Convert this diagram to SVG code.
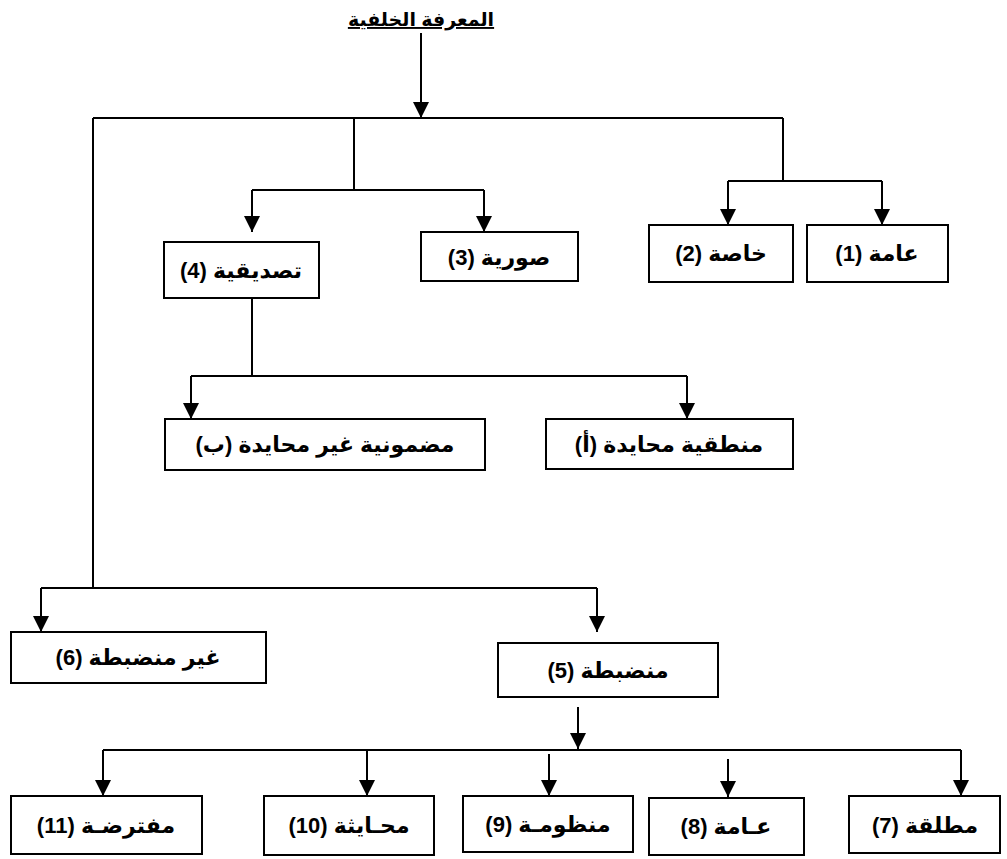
<svg xmlns="http://www.w3.org/2000/svg" width="1007" height="859" viewBox="0 0 1007 859">
<style>
  .box { fill: #ffffff; stroke: #000000; stroke-width: 2; }
  .lbl { font-family: "Liberation Sans", "DejaVu Sans", sans-serif; font-weight: bold; font-size: 22px; fill: #000000; text-anchor: middle; direction: rtl; unicode-bidi: embed; }
  .title { font-size: 19px; text-decoration: underline; }
  .ln { fill: none; stroke: #000000; stroke-width: 2; }
</style>
<defs>
  <marker id="ah" markerUnits="userSpaceOnUse" markerWidth="18" markerHeight="18" refX="16" refY="8" orient="auto">
    <path d="M0,0 L16,8 L0,16 z" fill="#000000"/>
  </marker>
</defs>
<rect width="1007" height="859" fill="#ffffff"/>

<g id="connectors">
  <path class="ln" d="M421,33 V118" marker-end="url(#ah)"/>
  <path class="ln" d="M93,118 H783"/>
  <path class="ln" d="M354,118 V190"/>
  <path class="ln" d="M783,118 V181"/>
  <path class="ln" d="M728,181 H882"/>
  <path class="ln" d="M728,181 V225" marker-end="url(#ah)"/>
  <path class="ln" d="M882,181 V225" marker-end="url(#ah)"/>
  <path class="ln" d="M252,190 H484"/>
  <path class="ln" d="M252,190 V232" marker-end="url(#ah)"/>
  <path class="ln" d="M484,190 V232" marker-end="url(#ah)"/>
  <path class="ln" d="M252,298 V376"/>
  <path class="ln" d="M191,376 H687"/>
  <path class="ln" d="M191,376 V419" marker-end="url(#ah)"/>
  <path class="ln" d="M687,376 V419" marker-end="url(#ah)"/>
  <path class="ln" d="M93,118 V588"/>
  <path class="ln" d="M41,588 H597"/>
  <path class="ln" d="M41,588 V632" marker-end="url(#ah)"/>
  <path class="ln" d="M597,588 V632" marker-end="url(#ah)"/>
  <path class="ln" d="M578,707 V749" marker-end="url(#ah)"/>
  <path class="ln" d="M103,750 H961"/>
  <path class="ln" d="M103,750 V796" marker-end="url(#ah)"/>
  <path class="ln" d="M367,750 V796" marker-end="url(#ah)"/>
  <path class="ln" d="M549,754 V796" marker-end="url(#ah)"/>
  <path class="ln" d="M728,759 V797" marker-end="url(#ah)"/>
  <path class="ln" d="M961,750 V796" marker-end="url(#ah)"/>
</g>

<g id="title">
  <text class="lbl title" x="421" y="26">المعرفة الخلفية</text>
</g>

<g id="node1">
  <rect class="box" x="807" y="225" width="141" height="57"/>
  <text class="lbl" x="877" y="261">عامة (1)</text>
</g>
<g id="node2">
  <rect class="box" x="649" y="225" width="144" height="57"/>
  <text class="lbl" x="721" y="261">خاصة (2)</text>
</g>
<g id="node3">
  <rect class="box" x="421" y="232" width="157" height="49"/>
  <text class="lbl" x="499" y="265">صورية (3)</text>
</g>
<g id="node4">
  <rect class="box" x="164" y="242" width="155" height="56"/>
  <text class="lbl" x="241" y="278">تصديقية (4)</text>
</g>
<g id="nodeA">
  <rect class="box" x="546" y="419" width="247" height="50"/>
  <text class="lbl" x="669" y="452">منطقية محايدة (أ)</text>
</g>
<g id="nodeB">
  <rect class="box" x="165" y="419" width="320" height="51"/>
  <text class="lbl" x="325" y="452">مضمونية غير محايدة (ب)</text>
</g>
<g id="node6">
  <rect class="box" x="11" y="632" width="255" height="51"/>
  <text class="lbl" x="138" y="665">غير منضبطة (6)</text>
</g>
<g id="node5">
  <rect class="box" x="498" y="643" width="220" height="54"/>
  <text class="lbl" x="608" y="678">منضبطة (5)</text>
</g>
<g id="node7">
  <rect class="box" x="849" y="796" width="151" height="57"/>
  <text class="lbl" x="925" y="833">مطلقة (7)</text>
</g>
<g id="node8">
  <rect class="box" x="649" y="798" width="155" height="57"/>
  <text class="lbl" x="726" y="834">عـامة (8)</text>
</g>
<g id="node9">
  <rect class="box" x="463" y="796" width="170" height="56"/>
  <text class="lbl" x="548" y="832">منظومـة (9)</text>
</g>
<g id="node10">
  <rect class="box" x="264" y="796" width="170" height="59"/>
  <text class="lbl" x="349" y="833">محـايثة (10)</text>
</g>
<g id="node11">
  <rect class="box" x="11" y="796" width="191" height="58"/>
  <text class="lbl" x="106" y="833">مفترضـة (11)</text>
</g>
</svg>
